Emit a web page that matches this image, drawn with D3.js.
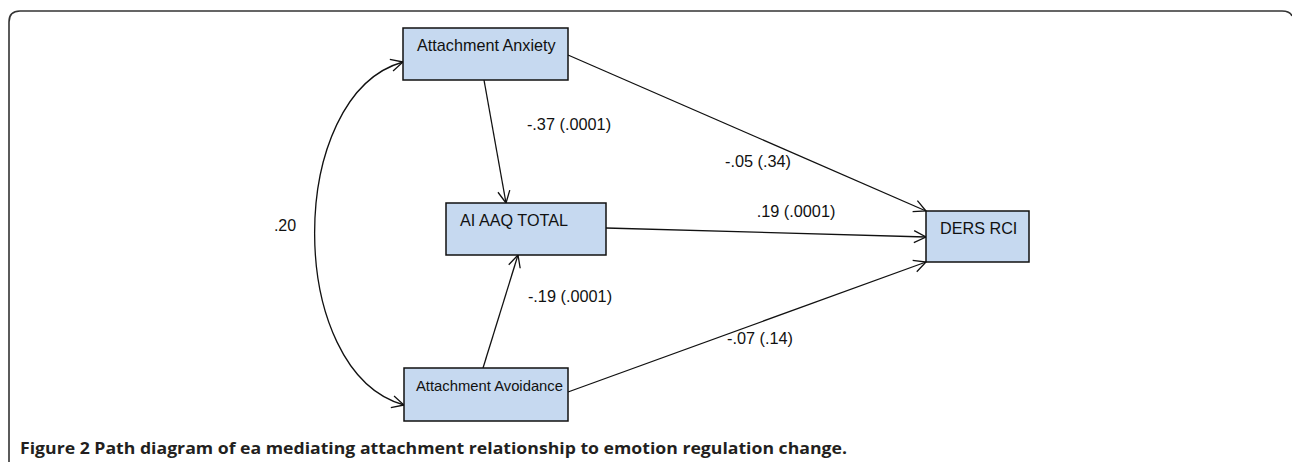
<!DOCTYPE html>
<html>
<head>
<meta charset="utf-8">
<script src="https://cdnjs.cloudflare.com/ajax/libs/d3/7.8.5/d3.min.js"></script>
<style>
  body { margin: 0; background: #fff; }
  svg { display: block; }
</style>
</head>
<body>
<svg></svg>
<script>
var WIDTH = 1292;
var HEIGHT = 462;

// the data: variables and path coefficients
var nodeNames = ["Attachment Anxiety", "AI AAQ TOTAL", "DERS RCI", "Attachment Avoidance"];
var pathFrom = ["Attachment Anxiety", "Attachment Avoidance", "Attachment Anxiety", "AI AAQ TOTAL", "Attachment Avoidance"];
var pathTo = ["AI AAQ TOTAL", "AI AAQ TOTAL", "DERS RCI", "DERS RCI", "DERS RCI"];
var pathLabels = ["-.37 (.0001)", "-.19 (.0001)", "-.05 (.34)", ".19 (.0001)", "-.07 (.14)"];
var covLabel = ".20";
var caption = ["Figure 2", "Path diagram of ea mediating attachment relationship to emotion regulation change."];

// layout (pixels)
var boxes = {
  "Attachment Anxiety":   {x: 403, y: 28,  w: 165, h: 52, pad: 14, fs: 16.2},
  "AI AAQ TOTAL":         {x: 446, y: 203, w: 160, h: 52, pad: 14, fs: 16.2},
  "DERS RCI":             {x: 926, y: 211, w: 103, h: 51, pad: 14, fs: 16.2},
  "Attachment Avoidance": {x: 404, y: 368, w: 164, h: 53, pad: 12, fs: 14.8}
};
// start / end points of each path, and label centres
var pathGeom = [
  {x1: 484, y1: 80,  x2: 506, y2: 203, lx: 569, ly: 125},
  {x1: 483, y1: 368, x2: 518, y2: 255, lx: 570, ly: 297},
  {x1: 568, y1: 55,  x2: 926, y2: 211, lx: 758, ly: 162},
  {x1: 606, y1: 228, x2: 926, y2: 237, lx: 796, ly: 212},
  {x1: 568, y1: 392, x2: 926, y2: 262, lx: 760, ly: 339}
];

var svg = d3.select("svg")
    .attr("width", WIDTH)
    .attr("height", HEIGHT);

svg.append("defs").append("marker")
    .attr("id", "arrow")
    .attr("viewBox", "-13 -7 15 14")
    .attr("refX", 0)
    .attr("refY", 0)
    .attr("markerWidth", 15)
    .attr("markerHeight", 14)
    .attr("markerUnits", "userSpaceOnUse")
    .attr("orient", "auto-start-reverse")
    .append("path")
    .attr("d", "M-12,-6 L0,0 L-12,6")
    .attr("fill", "none")
    .attr("stroke", "#111")
    .attr("stroke-width", 1.3);

// outer frame (rounded, open at the bottom)
svg.append("path")
    .attr("d", "M9,462 L9,22 Q9,11 20,11 L1282,11 Q1290,11 1292,16")
    .attr("fill", "none")
    .attr("stroke", "#333")
    .attr("stroke-width", 1.6);

// straight paths
svg.selectAll("line.path")
    .data(pathGeom)
    .enter()
    .append("line")
    .attr("class", "path")
    .attr("x1", function(d) { return d.x1; })
    .attr("y1", function(d) { return d.y1; })
    .attr("x2", function(d) { return d.x2; })
    .attr("y2", function(d) { return d.y2; })
    .attr("stroke", "#111")
    .attr("stroke-width", 1.3)
    .attr("marker-end", "url(#arrow)");

// covariance curve between the two attachment boxes
var a = boxes["Attachment Anxiety"], b = boxes["Attachment Avoidance"];
var curve = d3.path();
curve.moveTo(a.x, 62);
curve.bezierCurveTo(285, 95, 285, 372, b.x, 405);
svg.append("path")
    .attr("d", curve.toString())
    .attr("fill", "none")
    .attr("stroke", "#111")
    .attr("stroke-width", 1.3)
    .attr("marker-start", "url(#arrow)")
    .attr("marker-end", "url(#arrow)");

svg.append("text")
    .attr("x", 285)
    .attr("y", 231)
    .attr("text-anchor", "middle")
    .attr("font-family", "Liberation Sans, Arial, sans-serif")
    .attr("font-size", 16)
    .attr("fill", "#111")
    .text(covLabel);

// boxes
var node = svg.selectAll("g.node")
    .data(nodeNames)
    .enter()
    .append("g")
    .attr("class", "node");

node.append("rect")
    .attr("x", function(d) { return boxes[d].x; })
    .attr("y", function(d) { return boxes[d].y; })
    .attr("width", function(d) { return boxes[d].w; })
    .attr("height", function(d) { return boxes[d].h; })
    .attr("fill", "#c6d9f0")
    .attr("stroke", "#111")
    .attr("stroke-width", 1.5);

node.append("text")
    .attr("x", function(d) { return boxes[d].x + boxes[d].pad; })
    .attr("y", function(d) { return boxes[d].y + 23; })
    .attr("font-family", "Liberation Sans, Arial, sans-serif")
    .attr("font-size", function(d) { return boxes[d].fs; })
    .attr("fill", "#111")
    .text(function(d) { return d; });

// coefficient labels
svg.selectAll("text.coef")
    .data(pathLabels)
    .enter()
    .append("text")
    .attr("class", "coef")
    .attr("x", function(d, i) { return pathGeom[i].lx; })
    .attr("y", function(d, i) { return pathGeom[i].ly + 5; })
    .attr("text-anchor", "middle")
    .attr("font-family", "Liberation Sans, Arial, sans-serif")
    .attr("font-size", 16.3)
    .attr("fill", "#111")
    .text(function(d) { return d; });

// caption
var cap = svg.append("text")
    .attr("x", 20)
    .attr("y", 454)
    .attr("font-family", "Open Sans, Noto Sans, sans-serif")
    .attr("font-size", 15.5)
    .attr("font-weight", "bold")
    .attr("fill", "#231f20");
cap.append("tspan").text(caption[0]);
cap.append("tspan").text(" " + caption[1]);
cap.attr("textLength", 827).attr("lengthAdjust", "spacingAndGlyphs");
</script>
</body>
</html>
